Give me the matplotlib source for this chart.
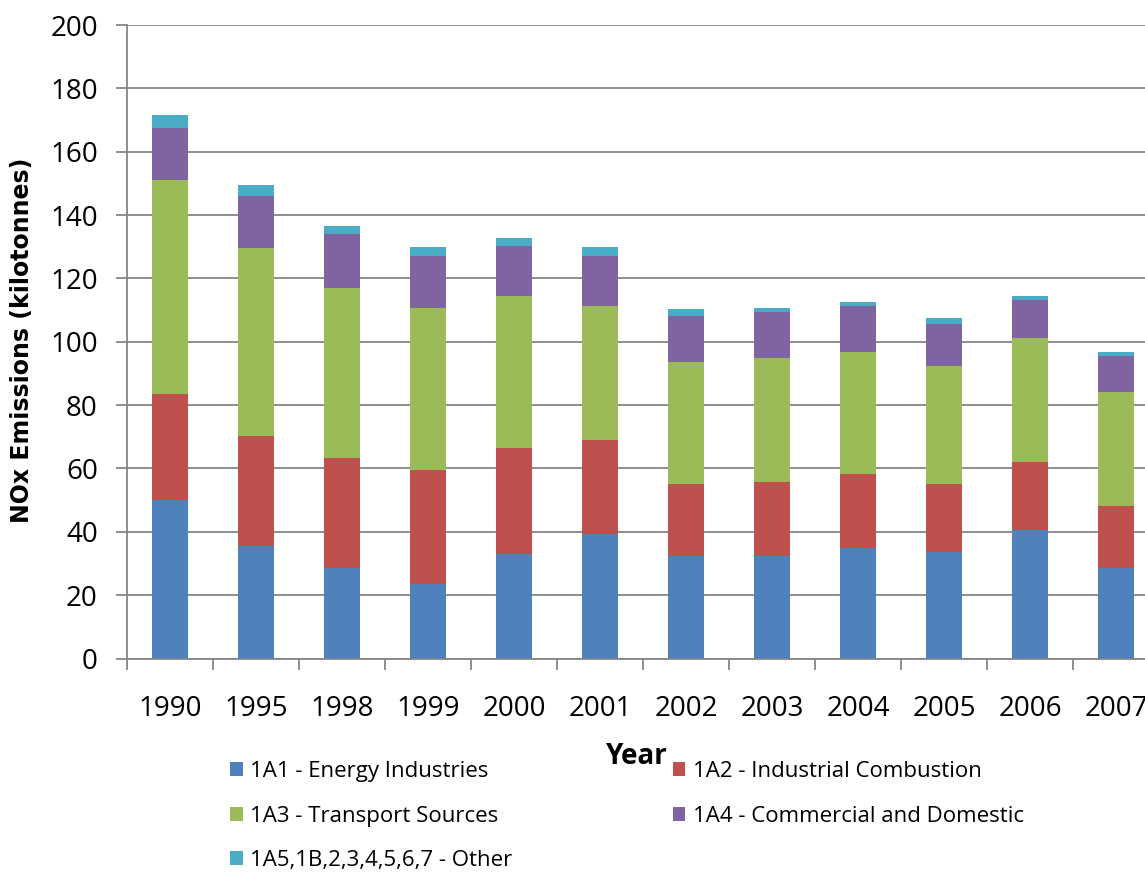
import matplotlib
matplotlib.use("Agg")
import matplotlib.pyplot as plt
from matplotlib.patches import Patch
import numpy as np

years = ["1990", "1995", "1998", "1999", "2000", "2001",
         "2002", "2003", "2004", "2005", "2006", "2007"]

energy_industries = [50.0, 35.6, 28.6, 23.6, 33.0, 39.3, 32.4, 32.4, 34.9, 33.7, 40.6, 28.6]
industrial_combustion = [33.5, 34.6, 34.6, 35.9, 33.4, 29.6, 22.7, 23.4, 23.4, 21.4, 21.5, 19.6]
transport_sources = [67.6, 59.4, 53.7, 51.1, 48.0, 42.5, 38.5, 39.2, 38.4, 37.2, 39.0, 35.9]
commercial_domestic = [16.4, 16.4, 17.1, 16.5, 15.8, 15.7, 14.5, 14.4, 14.5, 13.3, 12.0, 11.4]
other = [4.1, 3.5, 2.6, 2.8, 2.5, 2.8, 2.2, 1.3, 1.3, 1.9, 1.3, 1.2]

series_labels = ["1A1 - Energy Industries",
                 "1A2 - Industrial Combustion",
                 "1A3 - Transport Sources",
                 "1A4 - Commercial and Domestic",
                 "1A5,1B,2,3,4,5,6,7 - Other"]
series_colors = ["#4F81BD", "#C0504D", "#9BBB59", "#8064A2", "#4BACC6"]

y_ticks = [0, 20, 40, 60, 80, 100, 120, 140, 160, 180, 200]

plt.rcParams["font.family"] = ["Open Sans", "DejaVu Sans"]

W, H = 1145, 876
fig = plt.figure(figsize=(W / 100, H / 100), dpi=100)
ax = fig.add_axes([127 / W, 1 - 658.5 / H, 1032 / W, 633.5 / H])

x = np.arange(len(years))
series = [energy_industries, industrial_combustion, transport_sources,
          commercial_domestic, other]
bottom = np.zeros(len(years))
for vals, col, lab in zip(series, series_colors, series_labels):
    ax.bar(x, vals, width=0.43, bottom=bottom, color=col, label=lab, zorder=2)
    bottom += np.array(vals)

grey = "#868686"
ax.set_xlim(-0.5, len(years) - 0.5)
ax.set_ylim(0, 200)
ax.set_yticks(y_ticks)
ax.set_yticklabels([str(v) for v in y_ticks])
ax.set_axisbelow(True)
ax.yaxis.grid(True, color=grey, linewidth=1.3, zorder=0)

ax.set_xticks(x)
ax.set_xticklabels(years)
ax.set_xticks(np.arange(-0.5, len(years)), minor=True)
ax.tick_params(axis="x", which="major", length=0, pad=26, labelsize=20)
ax.tick_params(axis="x", which="minor", length=8, width=1.3, color=grey, direction="out")
ax.tick_params(axis="y", length=8, width=1.3, color=grey, direction="out",
               pad=13, labelsize=20)

for side in ("top", "right"):
    ax.spines[side].set_visible(False)
for side in ("left", "bottom"):
    ax.spines[side].set_color(grey)
    ax.spines[side].set_linewidth(1.3)

fig.text(22 / W, 1 - 340 / H, "NOx Emissions (kilotonnes)", rotation=90,
         ha="center", va="center", fontsize=17, fontweight="bold",
         family=["DejaVu Sans"])
fig.text(637 / W, 1 - 756 / H, "Year", ha="center", va="center",
         fontsize=20, fontweight="bold")

handles = [Patch(facecolor=c, edgecolor="none") for c in series_colors]
order = [0, 2, 4, 1, 3]
fig.legend([handles[i] for i in order], [series_labels[i] for i in order],
           ncol=2, loc="upper left", bbox_to_anchor=(230 / W, 1 - 761 / H),
           frameon=False, fontsize=16, handlelength=0.57, handleheight=0.57,
           handletextpad=0.35, labelspacing=1.06, columnspacing=7.2,
           borderaxespad=0, borderpad=0)

fig.savefig("out.png", dpi=100)
